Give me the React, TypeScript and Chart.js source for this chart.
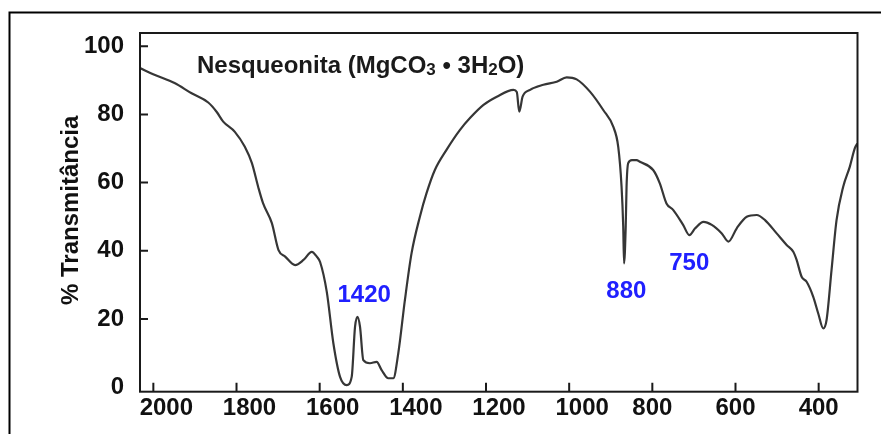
import React, { useEffect, useRef } from 'react';
import { Chart, registerables } from 'chart.js';

Chart.register(...registerables);

// ---- data ----
const wavenumbers = [
  2032, 1996, 1949, 1908, 1868, 1848, 1832, 1804, 1780, 1763,
  1748, 1736, 1715, 1699, 1683, 1659, 1639, 1619, 1607, 1599,
  1583, 1567, 1551, 1535, 1523, 1515, 1509, 1503, 1495, 1479,
  1463, 1451, 1435, 1423, 1411, 1395, 1379, 1359, 1343, 1323,
  1295, 1263, 1238, 1206, 1174, 1134, 1126, 1120, 1112, 1094,
  1062, 1030, 1006, 982, 950, 918, 894, 882, 874, 870,
  868, 864, 862, 858, 849, 838, 830, 798, 782, 766,
  750, 726, 711, 697, 677, 657, 633, 617, 597, 573,
  549, 529, 501, 477, 461, 453, 441, 429, 413, 401,
  389, 381, 369, 357, 341, 325, 313, 307,
];
const transmittance = [
  93.6, 91.6, 89.2, 86.2, 83.5, 80.8, 77.9, 74.9, 70.5, 65.7,
  58.8, 53.9, 48.1, 40.2, 38.3, 35.8, 37.3, 39.7, 38.3, 36.7,
  28.0, 12.8, 3.0, 0.6, 3.0, 17.7, 20.6, 17.7, 7.9, 7.0,
  7.4, 5.0, 2.6, 2.6, 9.9, 25.6, 39.3, 50.0, 56.9, 63.7,
  69.6, 75.4, 79.0, 82.8, 85.2, 87.2, 86.6, 80.8, 85.2, 87.2,
  88.7, 89.6, 90.9, 90.3, 86.7, 81.3, 76.4, 70.5, 58.8, 47.1,
  36.3, 47.1, 58.8, 65.7, 66.6, 66.6, 66.1, 63.7, 59.8, 53.9,
  52.0, 47.6, 44.6, 46.6, 48.5, 47.6, 45.1, 42.7, 46.6, 50.0,
  50.5, 49.0, 45.1, 41.7, 39.7, 37.3, 32.4, 30.9, 26.5, 21.6,
  17.2, 19.7, 34.4, 49.0, 58.8, 64.7, 70.1, 71.5,
];
const xTickValues = [2000, 1800, 1600, 1400, 1200, 1000, 800, 600, 400];
const yTickValues = [0, 20, 40, 60, 80, 100];
const peakLabels = ['1420', '880', '750'];
const peakLabelX = [1493, 862.6, 711.3];
const peakLabelY = [25.05, 26.05, 34.4];
const titleParts = ['Nesqueonita (MgCO', '3', ' \u2022 3H', '2', 'O)'];
const titleIsSub = [false, true, false, true, false];
const yAxisTitle = '% Transmit\u00e2ncia';

const FONT = '"Liberation Sans", Arial, Helvetica, sans-serif';

const decor = {
  id: 'decor',
  beforeDraw(chart: any) {
    const ctx = chart.ctx;
    ctx.save();
    ctx.fillStyle = '#ffffff';
    ctx.fillRect(0, 0, chart.width, chart.height);
    ctx.restore();
  },
  afterDraw(chart: any) {
    const { ctx, chartArea: a, scales } = chart;
    const xs = scales.x;
    const ys = scales.y;
    ctx.save();
    // outer frame of the figure
    ctx.strokeStyle = '#000';
    ctx.lineWidth = 2;
    ctx.beginPath();
    ctx.moveTo(9.5, chart.height);
    ctx.lineTo(9.5, 12.5);
    ctx.lineTo(chart.width, 12.5);
    ctx.stroke();
    // plot box
    ctx.strokeStyle = '#1a1a1a';
    ctx.lineWidth = 2;
    ctx.strokeRect(a.left, a.top, a.right - a.left, a.bottom - a.top);
    // inward tick marks
    ctx.beginPath();
    xTickValues.forEach((v) => {
      const p = xs.getPixelForValue(v);
      ctx.moveTo(p, a.bottom);
      ctx.lineTo(p, a.bottom - 9);
    });
    yTickValues.forEach((v) => {
      if (v === 0) return;
      const p = ys.getPixelForValue(v);
      ctx.moveTo(a.left, p);
      ctx.lineTo(a.left + 8, p);
    });
    ctx.stroke();
    // x tick labels
    ctx.fillStyle = '#111';
    ctx.font = `bold 24px ${FONT}`;
    ctx.textAlign = 'center';
    ctx.textBaseline = 'alphabetic';
    xTickValues.forEach((v) => {
      const s = String(v);
      const p = xs.getPixelForValue(v) + (s.length > 3 ? 13 : 0);
      ctx.fillText(s, p, a.bottom + 23.5);
    });
    // y axis title
    ctx.save();
    ctx.translate(78, (a.top + a.bottom) / 2 - 2);
    ctx.rotate(-Math.PI / 2);
    ctx.textAlign = 'center';
    ctx.textBaseline = 'alphabetic';
    ctx.fillText(yAxisTitle, 0, 0);
    ctx.restore();
    // chart title with subscripts
    let tx = a.left + 57;
    const ty = a.top + 39.5;
    ctx.textAlign = 'left';
    ctx.fillStyle = '#1a1a1a';
    titleParts.forEach((t, i) => {
      ctx.font = titleIsSub[i] ? `bold 17px ${FONT}` : `bold 24px ${FONT}`;
      ctx.fillText(t, tx, ty + (titleIsSub[i] ? 2 : 0));
      tx += ctx.measureText(t).width;
    });
    // blue peak labels
    ctx.fillStyle = '#2020ff';
    ctx.font = `bold 24px ${FONT}`;
    ctx.textAlign = 'center';
    peakLabels.forEach((t, i) => {
      ctx.fillText(t, xs.getPixelForValue(peakLabelX[i]), ys.getPixelForValue(peakLabelY[i]));
    });
    ctx.restore();
  },
};

export default function App() {
  const ref = useRef<HTMLCanvasElement>(null);
  useEffect(() => {
    const chart = new Chart(ref.current as HTMLCanvasElement, {
      type: 'line',
      data: {
        datasets: [
          {
            data: wavenumbers.map((w, i) => ({ x: w, y: transmittance[i] })),
            borderColor: '#363636',
            borderWidth: 2.2,
            pointRadius: 0,
            cubicInterpolationMode: 'monotone',
            fill: false,
          },
        ],
      },
      options: {
        responsive: false,
        animation: false,
        devicePixelRatio: 1,
        layout: { padding: { left: 0, top: 33, right: 23.5, bottom: 0 } },
        plugins: {
          legend: { display: false },
          tooltip: { enabled: false },
          title: { display: false },
        },
        scales: {
          x: {
            type: 'linear',
            reverse: true,
            min: 306.6,
            max: 2032.1,
            ticks: { display: false },
            grid: { display: false },
            border: { display: false },
            afterFit: (s: any) => {
              s.height = 42.3;
            },
          },
          y: {
            type: 'linear',
            min: -1.35,
            max: 103.9,
            afterBuildTicks: (s: any) => {
              s.ticks = yTickValues.map((v) => ({ value: v }));
            },
            ticks: {
              font: { family: FONT, size: 24, weight: 'bold' },
              color: '#111',
              padding: 8,
              autoSkip: false,
            },
            grid: { display: false },
            border: { display: false },
            afterFit: (s: any) => {
              s.width = 140;
            },
          },
        },
      } as any,
      plugins: [decor],
    });
    return () => chart.destroy();
  }, []);
  return (
    <div style={{ position: 'fixed', left: 0, top: 0, width: 881, height: 434, background: '#fff' }}>
      <canvas ref={ref} width={881} height={434} style={{ display: 'block', width: 881, height: 434 }} />
    </div>
  );
}
